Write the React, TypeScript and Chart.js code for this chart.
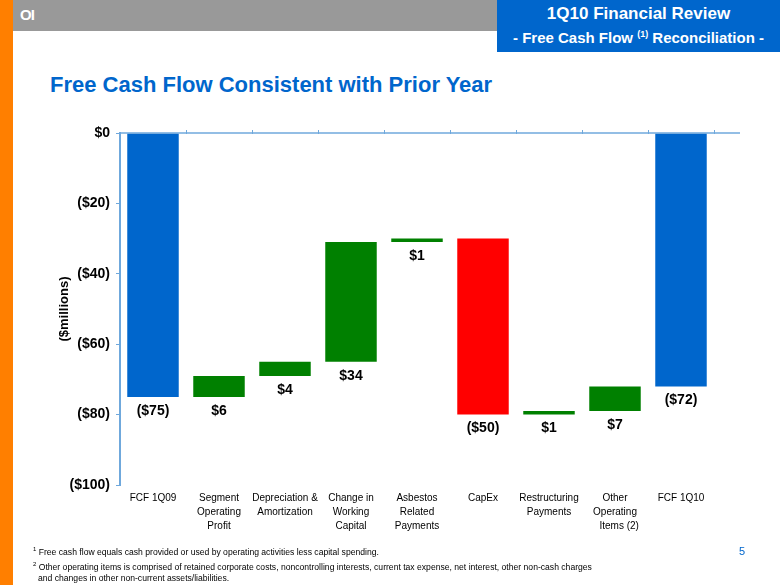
import React, { useEffect, useRef } from "react";
import { Chart, registerables } from "chart.js";

Chart.register(...registerables);

const categories: string[][] = [
  ["FCF 1Q09"],
  ["Segment", "Operating", "Profit"],
  ["Depreciation &", "Amortization"],
  ["Change in", "Working", "Capital"],
  ["Asbestos", "Related", "Payments"],
  ["CapEx"],
  ["Restructuring", "Payments"],
  ["Other", "Operating", "   Items (2)"],
  ["FCF 1Q10"],
];
const barStarts = [0, -75, -69, -65, -31, -30, -80, -79, 0];
const barEnds = [-75, -69, -65, -31, -30, -80, -79, -72, -72];
const valueLabels = ["($75)", "$6", "$4", "$34", "$1", "($50)", "$1", "$7", "($72)"];
const barKinds = ["total", "up", "up", "up", "up", "down", "up", "up", "total"];
const yTickLabels: Record<number, string> = {
  0: "$0",
  [-20]: "($20)",
  [-40]: "($40)",
  [-60]: "($60)",
  [-80]: "($80)",
  [-100]: "($100)",
};

const BLUE = "#0066CC";
const GREEN = "#008000";
const RED = "#FF0000";
const AXIS = "#6FA8DC";
const FONT = "Arial, 'Liberation Sans', Helvetica, sans-serif";

const kindColor = (k: string) => (k === "total" ? BLUE : k === "down" ? RED : GREEN);

export default function App() {
  const ref = useRef<HTMLCanvasElement>(null);

  useEffect(() => {
    if (!ref.current) return;
    const labelPlugin = {
      id: "valueLabels",
      afterDatasetsDraw(chart: any) {
        const ctx = chart.ctx;
        const meta = chart.getDatasetMeta(0);
        const yScale = chart.scales.y;
        const area = chart.chartArea;
        ctx.save();
        const y0 = yScale.getPixelForValue(0);
        ctx.strokeStyle = AXIS;
        ctx.lineWidth = 1.5;
        ctx.beginPath();
        ctx.moveTo(area.left, y0);
        ctx.lineTo(chart.width - 40, y0);
        ctx.stroke();
        const xScale = chart.scales.x;
        const step = xScale.width / categories.length;
        ctx.lineWidth = 1;
        for (let i = 1; i <= categories.length; i++) {
          const x = Math.round(area.left + step * i) + 0.5;
          ctx.beginPath();
          ctx.moveTo(x, y0 - 3);
          ctx.lineTo(x, y0 + 1);
          ctx.stroke();
        }
        ctx.fillStyle = "#000";
        ctx.font = `bold 14px ${FONT}`;
        ctx.textAlign = "center";
        ctx.textBaseline = "top";
        meta.data.forEach((el: any, i: number) => {
          const bottom = Math.max(el.y, el.base);
          ctx.fillText(valueLabels[i], el.x, bottom + 7);
        });
        ctx.restore();
      },
    };

    const chart = new Chart(ref.current, {
      type: "bar",
      data: {
        labels: categories,
        datasets: [
          {
            data: barStarts.map((s, i) => [s, barEnds[i]]) as any,
            backgroundColor: barKinds.map(kindColor),
            borderWidth: 0,
            barPercentage: 0.78,
            categoryPercentage: 1,
          },
        ],
      },
      options: {
        animation: false,
        responsive: false,
        maintainAspectRatio: false,
        layout: { padding: { left: 48, right: 66, top: 133, bottom: 45 } },
        plugins: { legend: { display: false }, tooltip: { enabled: false } },
        scales: {
          x: {
            position: "bottom",
            clip: false,
            grid: { display: false, drawTicks: false },
            border: { display: false },
            ticks: {
              color: "#000",
              font: { family: FONT, size: 10, lineHeight: 1.4 },
              padding: 6,
              maxRotation: 0,
              autoSkip: false,
            },
            afterFit: (s: any) => {
              s.height = 55;
            },
          },
          y: {
            min: -100,
            max: 0,
            border: { display: true, color: AXIS, width: 2 },
            grid: {
              drawOnChartArea: false,
              drawTicks: true,
              tickLength: 4,
              tickColor: AXIS,
              color: AXIS,
            },
            ticks: {
              stepSize: 20,
              padding: 6,
              color: "#000",
              font: { family: FONT, size: 14, weight: "bold" },
              callback: (v: any) => yTickLabels[v as number] ?? "",
            },
            title: {
              display: true,
              text: "($millions)",
              color: "#000",
              font: { family: FONT, size: 13, weight: "bold" },
              padding: { top: 9, bottom: 0 },
            },
            afterFit: (s: any) => {
              s.width = 72;
            },
          },
        },
      },
      plugins: [labelPlugin],
    });
    return () => chart.destroy();
  }, []);

  const supStyle: React.CSSProperties = { fontSize: 6, lineHeight: 0, verticalAlign: "super" };

  return (
    <div
      style={{
        position: "fixed",
        left: 0,
        top: 0,
        width: 780,
        height: 585,
        background: "#fff",
        overflow: "hidden",
        fontFamily: FONT,
      }}
    >
      <div style={{ position: "absolute", left: 0, top: 0, width: 13, height: 585, background: "#FF7F00" }} />
      <div style={{ position: "absolute", left: 13, top: 0, width: 767, height: 31, background: "#999999" }} />
      <div
        style={{
          position: "absolute",
          left: 20,
          top: 6,
          color: "#fff",
          fontWeight: "bold",
          fontSize: 15,
          letterSpacing: -1,
        }}
      >
        OI
      </div>
      <div
        style={{
          position: "absolute",
          left: 497,
          top: 0,
          width: 283,
          height: 52,
          background: BLUE,
          color: "#fff",
          fontWeight: "bold",
          textAlign: "center",
        }}
      >
        <div style={{ fontSize: 17, marginTop: 4, lineHeight: "20px" }}>1Q10 Financial Review</div>
        <div style={{ fontSize: 15, marginTop: 4, lineHeight: "20px" }}>
          - Free Cash Flow <sup style={{ fontSize: 9, lineHeight: 0 }}>(1)</sup> Reconciliation -
        </div>
      </div>
      <div
        style={{
          position: "absolute",
          left: 50,
          top: 72,
          color: BLUE,
          fontWeight: "bold",
          fontSize: 22,
          whiteSpace: "nowrap",
        }}
      >
        Free Cash Flow Consistent with Prior Year
      </div>
      <canvas ref={ref} width={780} height={585} style={{ position: "absolute", left: 0, top: 0 }} />
      <div
        style={{
          position: "absolute",
          left: 33,
          top: 547,
          fontSize: 8.6,
          color: "#000",
          lineHeight: "11px",
          whiteSpace: "nowrap",
        }}
      >
        <div>
          <span style={supStyle}>1</span> Free cash flow equals cash provided or used by operating activities less capital spending.
        </div>
        <div style={{ marginTop: 4 }}>
          <span style={supStyle}>2</span> Other operating items is comprised of retained corporate costs, noncontrolling interests, current tax expense, net interest, other non-cash charges
        </div>
        <div style={{ paddingLeft: 5 }}>and changes in other non-current assets/liabilities.</div>
      </div>
      <div style={{ position: "absolute", left: 739, top: 545, fontSize: 11, color: BLUE }}>5</div>
    </div>
  );
}
